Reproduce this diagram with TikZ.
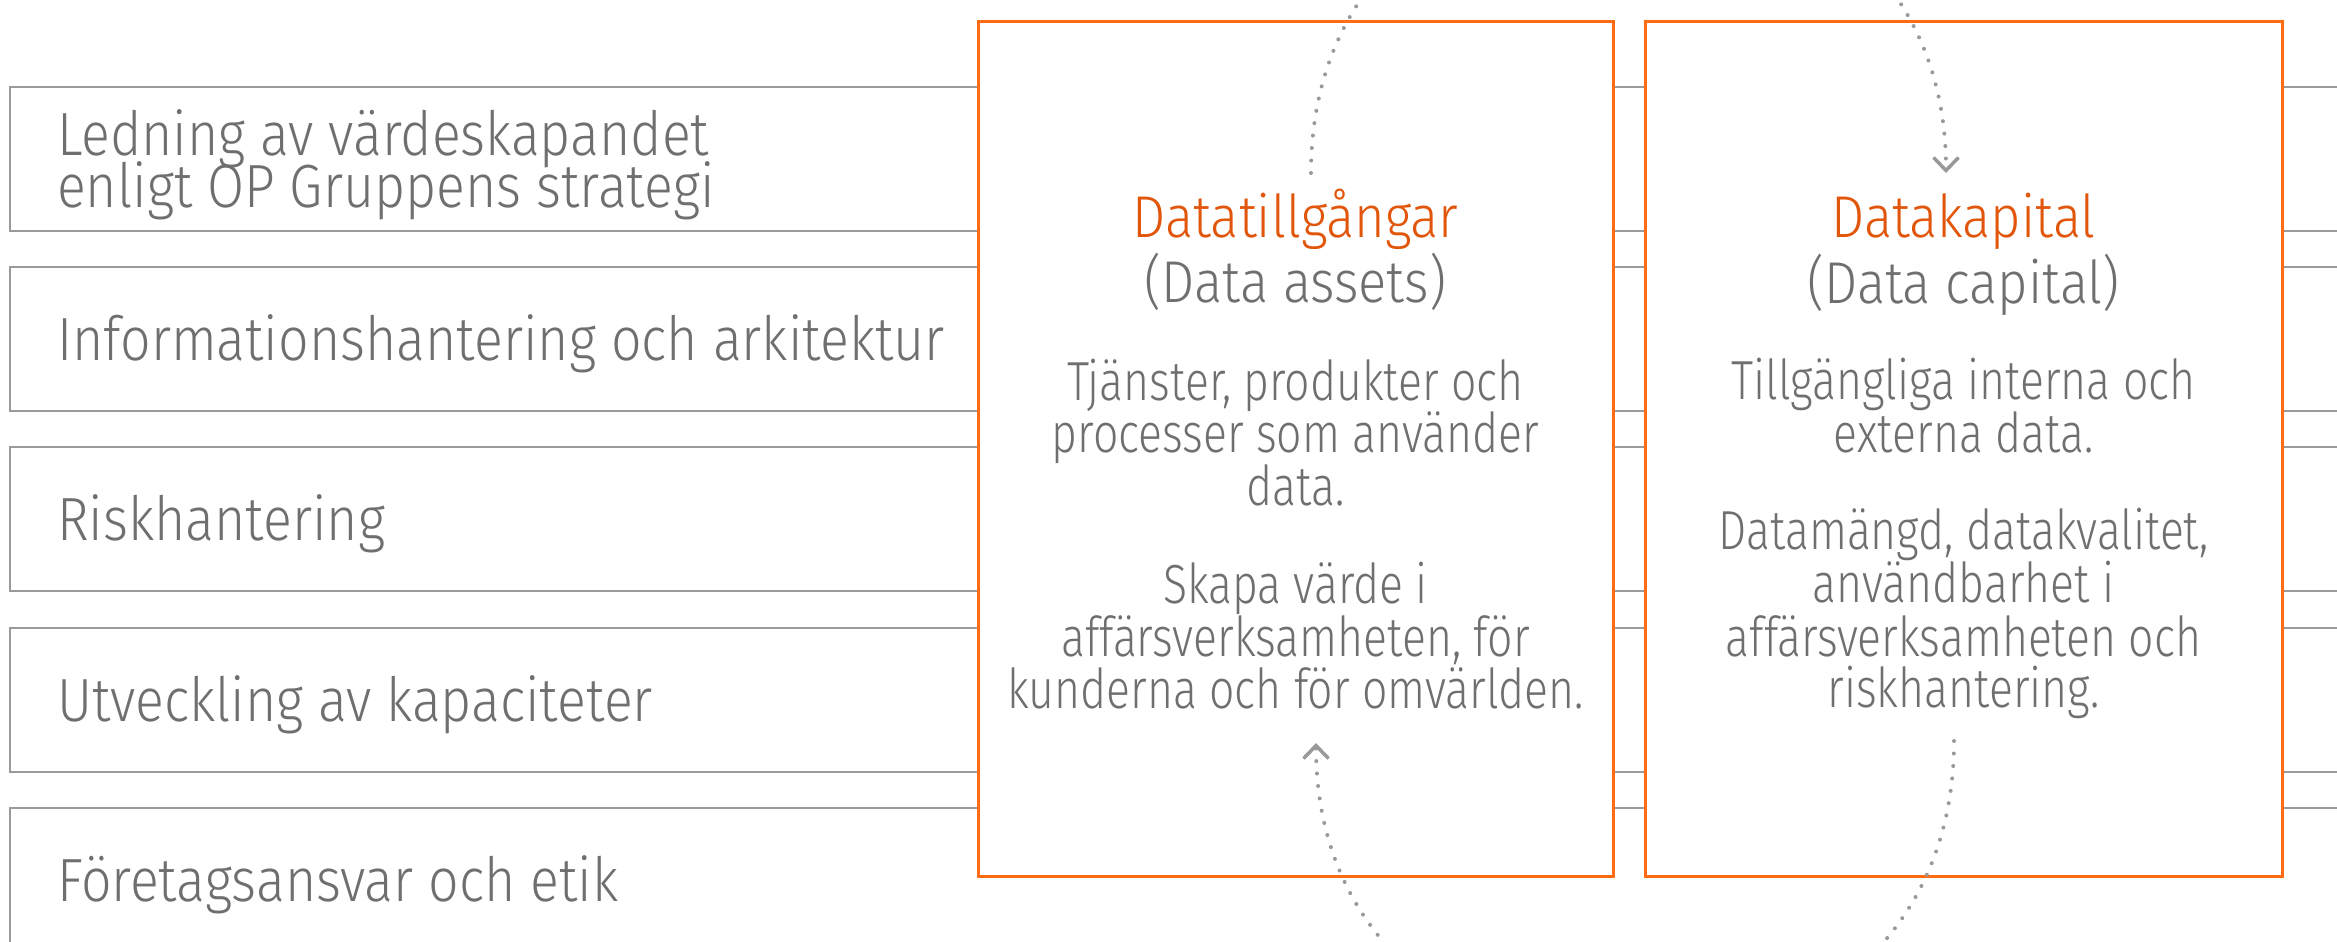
\documentclass[tikz,border=0pt]{standalone}
\usepackage{fontspec}
\setmainfont{Fira Sans Light}
\newfontfamily\bodyfont{Fira Sans Light}[FakeStretch=0.81]
\newfontfamily\headfont{Fira Sans Light}[FakeStretch=0.89]
\newfontfamily\stripfont{Fira Sans Light}[FakeStretch=0.88]
\usetikzlibrary{arrows.meta}
\definecolor{txtgray}{HTML}{6F6F6F}
\definecolor{linegray}{HTML}{9A9A9A}
\definecolor{dotgray}{HTML}{999999}
\definecolor{boxorange}{HTML}{FF6B10}
\definecolor{titleorange}{HTML}{E2560B}
\begin{document}
\begin{tikzpicture}[x=1pt,y=-1pt,
  strip/.style={draw=linegray, line width=2.5pt},
  obox/.style={draw=boxorange, fill=white, line width=3pt, inner sep=0pt},
  txt/.style={inner sep=0pt, text=txtgray},
  lbl/.style={txt, anchor=base west, font=\stripfont\fontsize{61}{52}\selectfont},
  cline/.style={txt, anchor=base, font=\bodyfont\fontsize{55}{52}\selectfont},
  hline/.style={txt, anchor=base, font=\headfont\fontsize{59}{52}\selectfont},
  ttl/.style={hline, text=titleorange},
  flow/.style={draw=dotgray, line width=4pt, line cap=round, dash pattern=on 0pt off 12.5pt},
  tip/.style={-{Straight Barb[length=13pt,width=25pt,line width=3.5pt]}}
]
\clip (0,0) rectangle (2337,942);
\fill[white] (0,0) rectangle (2337,942);
% strips
\draw[strip] (10,87) rectangle (2360,231);
\draw[strip] (10,267) rectangle (2360,411);
\draw[strip] (10,447) rectangle (2360,591);
\draw[strip] (10,628) rectangle (2360,772);
\draw[strip] (10,808) rectangle (2360,952);
\node[lbl] (s1a) at (57,155) {Ledning av värdeskapandet};
\node[lbl] (s1b) at (57,207) {enligt OP Gruppens strategi};
\node[lbl] (s2) at (57,360) {Informationshantering och arkitektur};
\node[lbl] (s3) at (57,540) {Riskhantering};
\node[lbl] (s4) at (57,721) {Utveckling av kapaciteter};
\node[lbl] (s5) at (57,901) {Företagsansvar och etik};
% boxes
\node[obox, minimum width=635pt, minimum height=854pt] (assets) at (1295.5,449) {};
\node[obox, minimum width=637pt, minimum height=854pt] (capital) at (1963.5,449) {};
% box 1 text
\node[ttl] (t1) at (1295.5,237) {Datatillgångar};
\node[hline] (t1e) at (1295.5,302) {(Data assets)};
\node[cline] (p1a) at (1295.5,400) {Tjänster, produkter och};
\node[cline] (p1b) at (1295.5,452) {processer som använder};
\node[cline] (p1c) at (1295.5,505) {data.};
\node[cline] (q1a) at (1295.5,603) {Skapa värde i};
\node[cline] (q1b) at (1295.5,656) {affärsverksamheten, för};
\node[cline] (q1c) at (1295.5,708) {kunderna och för omvärlden.};
% box 2 text
\node[ttl] (t2) at (1963.5,237) {Datakapital};
\node[hline] (t2e) at (1963.5,303) {(Data capital)};
\node[cline] (p2a) at (1963.5,399) {Tillgängliga interna och};
\node[cline] (p2b) at (1963.5,452) {externa data.};
\node[cline] (q2a) at (1963.5,549) {Datamängd, datakvalitet,};
\node[cline] (q2b) at (1963.5,602) {användbarhet i};
\node[cline] (q2c) at (1963.5,656) {affärsverksamheten och};
\node[cline] (q2d) at (1963.5,707) {riskhantering.};
% cycle arcs
\coordinate (aout) at (1311,173);
\coordinate (cin) at (1946,173);
\coordinate (cout) at (1954,741);
\coordinate (ain) at (1316,743);
\draw[flow, tip] (aout) .. controls (1311,-234) and (1946,-234) .. (cin);
\draw[flow, tip] (cout) .. controls (1954,1150) and (1316,1150) .. (ain);
\end{tikzpicture}
\end{document}
